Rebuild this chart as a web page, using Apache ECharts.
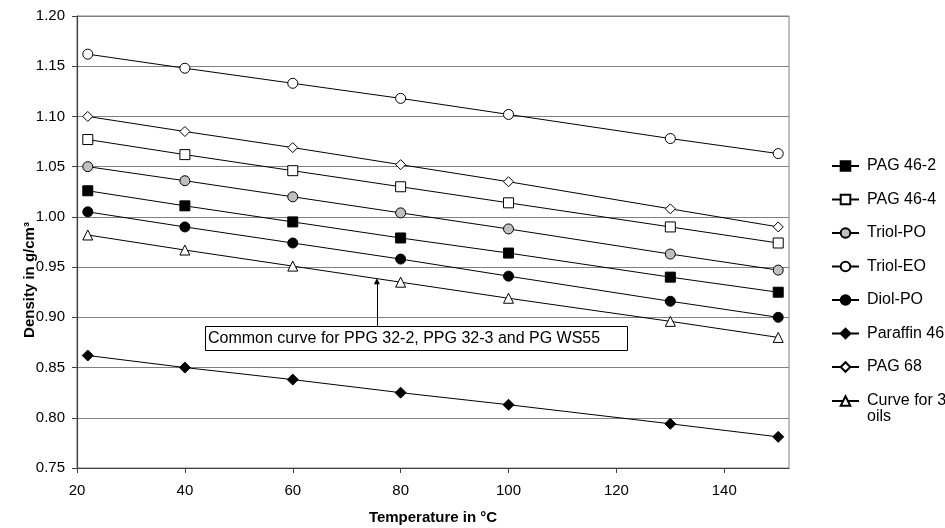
<!DOCTYPE html>
<html>
<head>
<meta charset="utf-8">
<script src="https://cdn.jsdelivr.net/npm/echarts@6/dist/echarts.min.js"></script>
<style>
html,body{margin:0;padding:0;background:#fff;}
#chart{width:945px;height:528px;}
</style>
</head>
<body>
<div id="chart"></div>
<script>
// ---- data ----
var temperatures = [22, 40, 60, 80, 100, 130, 150];
var pag462   = [1.026, 1.011, 0.995, 0.979, 0.964, 0.940, 0.925];
var pag464   = [1.077, 1.062, 1.046, 1.030, 1.014, 0.990, 0.974];
var triolPO  = [1.050, 1.036, 1.020, 1.004, 0.988, 0.963, 0.947];
var triolEO  = [1.162, 1.148, 1.133, 1.118, 1.102, 1.078, 1.063];
var diolPO   = [1.005, 0.990, 0.974, 0.958, 0.941, 0.916, 0.900];
var paraffin46 = [0.862, 0.850, 0.838, 0.825, 0.813, 0.794, 0.781];
var pag68    = [1.100, 1.085, 1.069, 1.052, 1.035, 1.008, 0.990];
var curve3   = [0.982, 0.967, 0.951, 0.935, 0.919, 0.896, 0.880];
var seriesNames = ['PAG 46-2', 'PAG 46-4', 'Triol-PO', 'Triol-EO', 'Diol-PO', 'Paraffin 46', 'PAG 68', 'Curve for 3\noils'];
var xTicks = [20, 40, 60, 80, 100, 120, 140];
var annotationText = 'Common curve for PPG 32-2, PPG 32-3 and PG WS55';
var arrowX = 75.6, arrowFrom = 0.8915, arrowTo = 0.936;

function pairs(vals){ return temperatures.map(function(t,i){ return [t, vals[i]]; }); }

var FONT = 'Liberation Sans, Arial, sans-serif';

function mk(name, vals, symbol, size, fill){
  return {
    name: name, type: 'line', data: pairs(vals),
    symbol: symbol, symbolSize: size, showAllSymbol: true,
    lineStyle: {color: '#000', width: 1},
    itemStyle: {color: fill, borderColor: '#000', borderWidth: 1},
    emphasis: {disabled: true},
    animation: false, z: 3
  };
}

var series = [
  mk(seriesNames[0], pag462, 'rect', 10, '#000'),
  mk(seriesNames[1], pag464, 'rect', 10, '#fff'),
  mk(seriesNames[2], triolPO, 'circle', 10, '#c0c0c0'),
  mk(seriesNames[3], triolEO, 'circle', 10, '#fff'),
  mk(seriesNames[4], diolPO, 'circle', 10, '#000'),
  mk(seriesNames[5], paraffin46, 'diamond', 11, '#000'),
  mk(seriesNames[6], pag68, 'diamond', 10, '#fff'),
  mk(seriesNames[7], curve3, 'triangle', 10, '#fff')
];
series[7].markLine = {
  silent: true, animation: false,
  symbol: ['none', 'triangle'], symbolSize: [6, 6],
  lineStyle: {color: '#000', width: 1, type: 'solid'},
  itemStyle: {color: '#000'},
  label: {show: false},
  data: [[{coord: [arrowX, arrowFrom]}, {coord: [arrowX, arrowTo]}]]
};

var legendText = {color: '#000', fontSize: 16, fontFamily: FONT, lineHeight: 16, padding: [0, 0, 0, 3]};
var legendCommon = {
  orient: 'vertical', left: 831, padding: 0,
  itemWidth: 27, itemHeight: 12, itemGap: 17.5,
  selectedMode: false, textStyle: legendText
};

var chart = echarts.init(document.getElementById('chart'), null, {renderer: 'canvas'});
chart.setOption({
  backgroundColor: '#fff',
  animation: false,
  grid: {left: 77, right: 156, top: 16, bottom: 60, show: true, borderColor: '#808080', borderWidth: 1, backgroundColor: 'transparent'},
  xAxis: {
    type: 'value', min: 20, max: 152, interval: 20,
    axisLine: {show: true, onZero: false, lineStyle: {color: '#404040', width: 1.2}},
    axisTick: {show: true, length: 5, inside: false, lineStyle: {color: '#404040'}},
    splitLine: {show: false},
    axisLabel: {show: true, showMaxLabel: false, margin: 15, color: '#000', fontSize: 15, fontFamily: FONT,
      formatter: function(v){ return xTicks.indexOf(v) >= 0 ? String(v) : ''; }}
  },
  yAxis: {
    type: 'value', min: 0.75, max: 1.20, interval: 0.05,
    axisLine: {show: true, onZero: false, lineStyle: {color: '#404040', width: 1.2}},
    axisTick: {show: true, length: 5, inside: false, lineStyle: {color: '#404040'}},
    splitLine: {show: true, lineStyle: {color: '#808080', width: 1}},
    axisLabel: {margin: 12, color: '#000', fontSize: 15, fontFamily: FONT,
      formatter: function(v){ return v.toFixed(2); }}
  },
  legend: [
    Object.assign({}, legendCommon, {top: 158, data: seriesNames.slice(0, 7)}),
    Object.assign({}, legendCommon, {top: 377, data: seriesNames.slice(7),
      formatter: function(name){ return '\n' + name; }})
  ],
  graphic: [
    {type: 'text', x: 30, y: 280, rotation: Math.PI / 2, z: 10,
      style: {text: 'Density in g/cm³', font: 'bold 15px ' + FONT, fill: '#000', textAlign: 'center', textVerticalAlign: 'middle'}},
    {type: 'text', x: 433, y: 518, z: 10,
      style: {text: 'Temperature in °C', font: 'bold 15px ' + FONT, fill: '#000', textAlign: 'center', textVerticalAlign: 'middle'}},
    {type: 'rect', shape: {x: 205.5, y: 326.5, width: 422, height: 24}, z: 10,
      style: {fill: '#fff', stroke: '#000', lineWidth: 1}},
    {type: 'text', x: 208, y: 339, z: 11,
      style: {text: annotationText, font: '16px ' + FONT, fill: '#000', textAlign: 'left', textVerticalAlign: 'middle'}}
  ],
  series: series
});
</script>
</body>
</html>
